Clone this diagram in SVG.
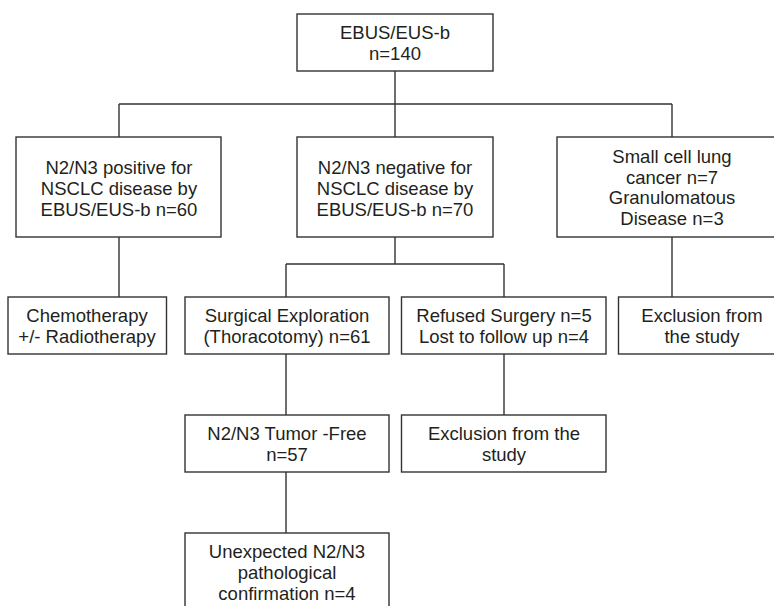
<svg xmlns="http://www.w3.org/2000/svg" width="774" height="606" viewBox="0 0 774 606">
<style>
.box{fill:#fff;stroke:#333;stroke-width:1.4}
.con{fill:none;stroke:#333;stroke-width:1.4}
text{font-family:"Liberation Sans",Arial,sans-serif;font-size:18.5px;fill:#231f20;text-anchor:middle}
</style>
<rect width="774" height="606" fill="#fff"/>
<g id="connectors" class="con">
<path d="M395,71 V104 M119,104 H672 M119,104 V137 M395,104 V137 M672,104 V137"/>
<path d="M119,237 V297 M672,237 V297"/>
<path d="M395,237 V264 M286,264 H504 M286,264 V297 M504,264 V297"/>
<path d="M286,354 V415 M504,354 V415 M286,472 V533"/>
</g>
<g id="n_root"><rect class="box" x="297" y="14" width="196" height="57"/>
<text x="395" y="39">EBUS/EUS-b</text><text x="395" y="60">n=140</text></g>
<g id="n_pos"><rect class="box" x="16" y="137" width="205" height="100"/>
<text x="119" y="174">N2/N3 positive for</text><text x="119" y="195">NSCLC disease by</text><text x="119" y="216">EBUS/EUS-b n=60</text></g>
<g id="n_neg"><rect class="box" x="297" y="137" width="196" height="100"/>
<text x="395" y="174">N2/N3 negative for</text><text x="395" y="195">NSCLC disease by</text><text x="395" y="216">EBUS/EUS-b n=70</text></g>
<g id="n_small"><rect class="box" x="557" y="137" width="230" height="100"/>
<text x="672" y="163">Small cell lung</text><text x="672" y="184">cancer n=7</text><text x="672" y="204">Granulomatous</text><text x="672" y="225">Disease n=3</text></g>
<g id="n_chemo"><rect class="box" x="8" y="297" width="158.5" height="57"/>
<text x="87" y="322">Chemotherapy</text><text x="87" y="343">+/- Radiotherapy</text></g>
<g id="n_surg"><rect class="box" x="185" y="297" width="204" height="57"/>
<text x="287" y="322">Surgical Exploration</text><text x="287" y="343">(Thoracotomy) n=61</text></g>
<g id="n_refused"><rect class="box" x="401.5" y="297" width="204.5" height="57"/>
<text x="504" y="322">Refused Surgery n=5</text><text x="504" y="343">Lost to follow up n=4</text></g>
<g id="n_excl1"><rect class="box" x="618.5" y="297" width="168" height="57"/>
<text x="702" y="322">Exclusion from</text><text x="702" y="343">the study</text></g>
<g id="n_free"><rect class="box" x="185" y="415" width="204" height="57"/>
<text x="287" y="440">N2/N3 Tumor -Free</text><text x="287" y="461">n=57</text></g>
<g id="n_excl2"><rect class="box" x="401.5" y="415" width="204.5" height="57"/>
<text x="504" y="440">Exclusion from the</text><text x="504" y="461">study</text></g>
<g id="n_unexp"><rect class="box" x="185" y="533" width="204" height="80"/>
<text x="287" y="558">Unexpected N2/N3</text><text x="287" y="579">pathological</text><text x="287" y="600">confirmation n=4</text></g>
</svg>
